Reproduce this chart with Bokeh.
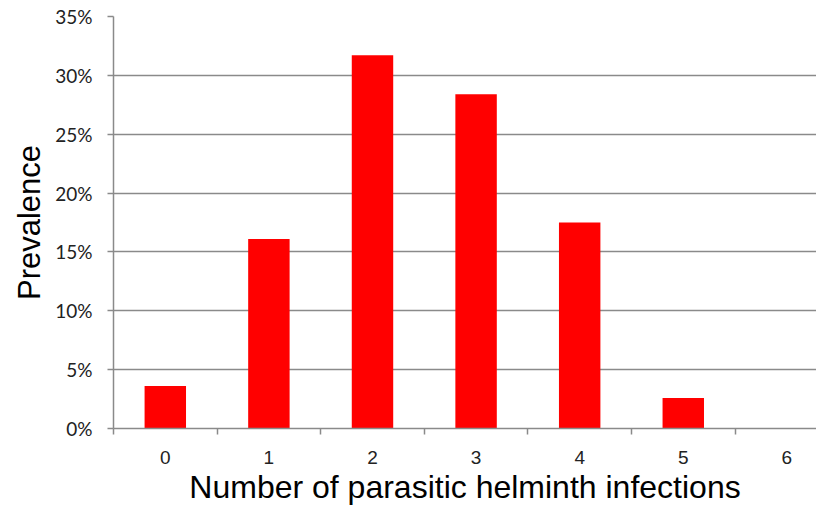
from bokeh.plotting import figure
from bokeh.models import FixedTicker, NumeralTickFormatter, Range1d
from bokeh.embed import file_html
from bokeh.resources import INLINE

categories = [0, 1, 2, 3, 4, 5, 6]
prevalence = [0.036, 0.161, 0.317, 0.284, 0.175, 0.026, 0.0]
y_ticks = [0.0, 0.05, 0.10, 0.15, 0.20, 0.25, 0.30, 0.35]

GRAY = "#8a8a8a"

p = figure(width=816, height=509, output_backend="svg", toolbar_location=None,
           x_range=Range1d(-0.5, 6.286), y_range=Range1d(0, 0.35),
           min_border_left=113, min_border_top=16, min_border_bottom=81, min_border_right=0)
p.outline_line_color = None

p.vbar(x=categories, top=prevalence, width=0.4, fill_color="#ff0000", line_color=None)

# y axis
p.yaxis.ticker = FixedTicker(ticks=y_ticks)
p.yaxis.formatter = NumeralTickFormatter(format="0%")
p.yaxis.axis_line_color = GRAY
p.yaxis.axis_line_width = 1.5
p.yaxis.major_tick_line_color = GRAY
p.yaxis.major_tick_line_width = 1.5
p.yaxis.major_tick_out = 6
p.yaxis.major_tick_in = 0
p.yaxis.minor_tick_line_color = None
p.yaxis.major_label_text_font = "Lato"
p.yaxis.major_label_text_font_size = "19px"
p.yaxis.major_label_text_color = "#222222"
p.yaxis.major_label_standoff = 15
p.yaxis.axis_label = "Prevalence"
p.yaxis.axis_label_text_font = "Liberation Sans"
p.yaxis.axis_label_text_font_style = "normal"
p.yaxis.axis_label_text_font_size = "31px"
p.yaxis.axis_label_text_color = "#000000"
p.yaxis.axis_label_standoff = 5

# x axis
p.xaxis.ticker = FixedTicker(ticks=categories,
                             minor_ticks=[c - 0.5 for c in categories] + [6.5])
p.xaxis.axis_line_color = GRAY
p.xaxis.axis_line_width = 1.5
p.xaxis.major_tick_line_color = None
p.xaxis.major_tick_out = 6
p.xaxis.major_tick_in = 0
p.xaxis.minor_tick_line_color = GRAY
p.xaxis.minor_tick_line_width = 1.5
p.xaxis.minor_tick_out = 6
p.xaxis.minor_tick_in = 0
p.xaxis.major_label_text_font = "Liberation Sans"
p.xaxis.major_label_text_font_size = "19px"
p.xaxis.major_label_text_color = "#222222"
p.xaxis.major_label_standoff = 16
p.xaxis.axis_label = "Number of parasitic helminth infections"
p.xaxis.axis_label_text_font = "Liberation Sans"
p.xaxis.axis_label_text_font_style = "normal"
p.xaxis.axis_label_text_font_size = "32px"
p.xaxis.axis_label_text_color = "#000000"
p.xaxis.axis_label_standoff = 2

p.xgrid.grid_line_color = None
p.ygrid.grid_line_color = GRAY
p.ygrid.grid_line_width = 1.5
p.ygrid.ticker = FixedTicker(ticks=y_ticks)

open("out.html", "w").write(file_html(p, INLINE))
